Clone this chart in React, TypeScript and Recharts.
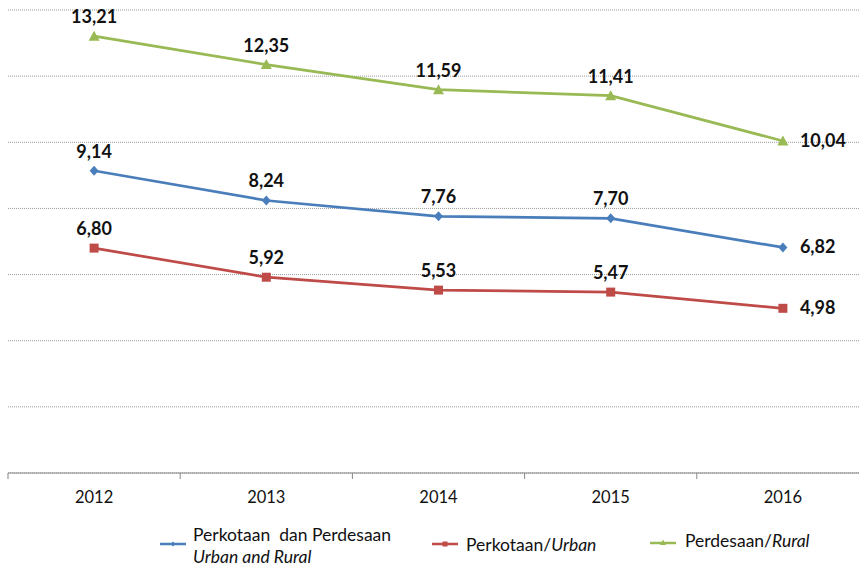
import { LineChart, Line, XAxis, YAxis, CartesianGrid, LabelList } from 'recharts'

const years = ['2012', '2013', '2014', '2015', '2016']
const totalPct = [9.14, 8.24, 7.76, 7.7, 6.82]
const urbanPct = [6.8, 5.92, 5.53, 5.47, 4.98]
const ruralPct = [13.21, 12.35, 11.59, 11.41, 10.04]
const yTicks = [0, 2, 4, 6, 8, 10, 12, 14]

const BLUE = '#4A7EBB'
const RED = '#BE4B48'
const GREEN = '#98B954'
const FONT = 'Lato, "Open Sans", sans-serif'

const CHART_W = 869
const PLOT_LEFT = 8
const STEP = (CHART_W - PLOT_LEFT) / years.length

const data = years.map((year, i) => ({
  i,
  year,
  total: totalPct[i],
  urban: urbanPct[i],
  rural: ruralPct[i],
}))

const fmt = (v: number) => v.toFixed(2).replace('.', ',')

function YearTick(props: any) {
  const { x, y, payload } = props
  const axisY = y - 8
  return (
    <g>
      <line x1={x - STEP / 2} x2={x - STEP / 2} y1={axisY} y2={axisY + 6} stroke="#868686" />
      <text x={x} y={y + 22} textAnchor="middle" fontSize={16.5} fill="#111" fontFamily={FONT}>
        {years[payload.value]}
      </text>
    </g>
  )
}

function valueLabel(props: any) {
  const { x, y, value, index } = props
  const last = index === years.length - 1
  return (
    <text
      x={last ? x + 17 : x}
      y={last ? y + 6 : y - 13}
      textAnchor={last ? 'start' : 'middle'}
      fontSize={18}
      fontWeight="bold"
      fill="#111"
      fontFamily={FONT}
    >
      {fmt(value)}
    </text>
  )
}

const diamond = (props: any) => {
  const { cx, cy, index } = props
  return <path key={`d${index}`} d={`M${cx},${cy - 5}L${cx + 4.5},${cy}L${cx},${cy + 5}L${cx - 4.5},${cy}Z`} fill={BLUE} />
}
const square = (props: any) => {
  const { cx, cy, index } = props
  return <rect key={`s${index}`} x={cx - 4.5} y={cy - 4.5} width={9} height={9} fill={RED} />
}
const triangle = (props: any) => {
  const { cx, cy, index } = props
  return <path key={`t${index}`} d={`M${cx},${cy - 5.5}L${cx + 5.5},${cy + 4.5}L${cx - 5.5},${cy + 4.5}Z`} fill={GREEN} />
}

function Swatch({ color, shape }: { color: string; shape: string }) {
  return (
    <svg width={26} height={10} style={{ display: 'block' }}>
      <line x1={0} x2={26} y1={5} y2={5} stroke={color} strokeWidth={2.5} />
      {shape === 'diamond' && <path d="M13,2.5L15.5,5L13,7.5L10.5,5Z" fill={color} />}
      {shape === 'square' && <rect x={10.5} y={2.5} width={5} height={5} fill={color} />}
      {shape === 'triangle' && <path d="M13,1.5L16,7L10,7Z" fill={color} />}
    </svg>
  )
}

export default function App() {
  const legendText = { position: 'absolute' as const, fontSize: 17.5, fontFamily: FONT, color: '#111', lineHeight: '22px', whiteSpace: 'nowrap' as const }
  return (
    <div style={{ position: 'fixed', left: 0, top: 0, width: 859, height: 568, overflow: 'hidden', background: '#fff' }}>
      <LineChart width={CHART_W} height={568} data={data} margin={{ top: 10, right: 0, left: PLOT_LEFT, bottom: 0 }}>
        <CartesianGrid vertical={false} stroke="#9a9a9a" strokeDasharray="1 1" />
        <YAxis hide domain={[0, 14]} ticks={yTicks} />
        <XAxis
          dataKey="i"
          type="number"
          domain={[-0.5, 4.5]}
          ticks={[0, 1, 2, 3, 4]}
          height={95}
          axisLine={{ stroke: '#868686' }}
          tickLine={false}
          tick={<YearTick />}
          interval={0}
        />
        <Line dataKey="total" stroke={BLUE} strokeWidth={2.7} dot={diamond} isAnimationActive={false}>
          <LabelList dataKey="total" content={valueLabel} />
        </Line>
        <Line dataKey="urban" stroke={RED} strokeWidth={2.7} dot={square} isAnimationActive={false}>
          <LabelList dataKey="urban" content={valueLabel} />
        </Line>
        <Line dataKey="rural" stroke={GREEN} strokeWidth={2.7} dot={triangle} isAnimationActive={false}>
          <LabelList dataKey="rural" content={valueLabel} />
        </Line>
      </LineChart>
      <div style={{ position: 'absolute', left: 160, top: 539 }}>
        <Swatch color={BLUE} shape="diamond" />
      </div>
      <div style={{ ...legendText, left: 193, top: 524 }}>Perkotaan&nbsp; dan Perdesaan</div>
      <div style={{ ...legendText, left: 193, top: 546, fontStyle: 'italic' }}>Urban and Rural</div>
      <div style={{ position: 'absolute', left: 432, top: 539 }}>
        <Swatch color={RED} shape="square" />
      </div>
      <div style={{ ...legendText, left: 466, top: 534 }}>
        Perkotaan/<i>Urban</i>
      </div>
      <div style={{ position: 'absolute', left: 650, top: 538 }}>
        <Swatch color={GREEN} shape="triangle" />
      </div>
      <div style={{ ...legendText, left: 685, top: 530 }}>
        Perdesaan/<i>Rural</i>
      </div>
    </div>
  )
}
